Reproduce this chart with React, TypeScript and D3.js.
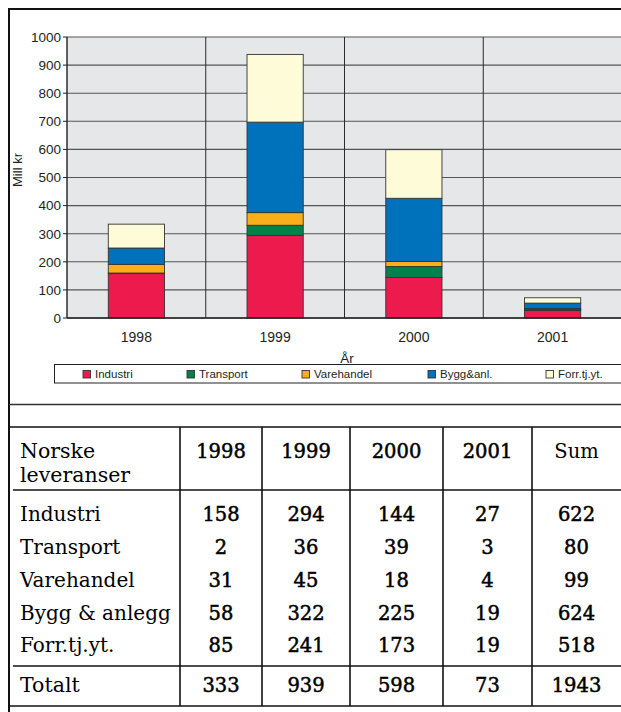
import React from "react";
import * as d3 from "d3";

const years = ["1998", "1999", "2000", "2001"];
const legendLabels = ["Industri", "Transport", "Varehandel", "Bygg&anl.", "Forr.tj.yt."];
const rowLabels = ["Industri", "Transport", "Varehandel", "Bygg & anlegg", "Forr.tj.yt."];
const industri = [158, 294, 144, 27];
const transport = [2, 36, 39, 3];
const varehandel = [31, 45, 18, 4];
const bygg = [58, 322, 225, 19];
const forr = [85, 241, 173, 19];
const rowSums = [622, 80, 99, 624, 518];
const yearTotals = [333, 939, 598, 73];
const grandTotal = 1943;
const yTicks = [0, 100, 200, 300, 400, 500, 600, 700, 800, 900, 1000];
const colors = ["#ed1a4e", "#00804a", "#f9ae1a", "#0072bb", "#fefbd9"];

const W = 621;
const H = 712;

export default function App() {
  const series = [industri, transport, varehandel, bygg, forr];
  const keys = legendLabels;
  const rows = years.map((yr, i) => {
    const o: any = { year: yr };
    keys.forEach((k, j) => (o[k] = series[j][i]));
    return o;
  });
  const stacked = d3.stack<any>().keys(keys)(rows);

  const plotL = 67, plotR = 622, plotT = 37, plotB = 318;
  const x = d3.scaleBand<string>().domain(years).range([plotL, plotR]).padding(0);
  const y = d3.scaleLinear().domain([0, 1000]).range([plotB, plotT]);
  const barW = x.bandwidth() * 0.405;

  const legendX = [83, 187, 302, 428, 546];

  const colEdges = [180, 262, 350, 443, 532, 621];
  const colCenters = colEdges.slice(0, -1).map((e, i) => (e + colEdges[i + 1]) / 2);
  const rowBase = [521, 554, 587, 620, 652];
  const serif = "'DejaVu Serif', serif";
  const sans = "'Liberation Sans', Arial, sans-serif";
  const numStroke = 0.5;

  return (
    <svg width={W} height={H} style={{ position: "absolute", left: 0, top: 0, background: "#fff" }}>
      <rect x={0} y={0} width={W} height={H} fill="#fff" />
      <rect x={plotL} y={plotT} width={plotR - plotL} height={plotB - plotT} fill="#e6e7e9" />
      {yTicks.map((t) => (
        <line key={"g" + t} x1={plotL} x2={plotR} y1={y(t)} y2={y(t)} stroke="#555" strokeWidth={1.1} />
      ))}
      {years.slice(1).map((yr) => (
        <line key={"v" + yr} x1={x(yr)!} x2={x(yr)!} y1={plotT} y2={plotB} stroke="#2a2a2a" strokeWidth={1} />
      ))}
      {stacked.map((s, j) => (
        <g key={s.key}>
          {s.map((d, i) => (
            <rect
              key={i}
              x={x(years[i])! + x.bandwidth() / 2 - barW / 2}
              y={y(d[1])}
              width={barW}
              height={Math.max(0, y(d[0]) - y(d[1]))}
              fill={colors[j]}
              stroke="#333"
              strokeWidth={0.9}
            />
          ))}
        </g>
      ))}
      <line x1={plotL} x2={plotL} y1={plotT} y2={plotB} stroke="#222" strokeWidth={1.4} />
      <line x1={plotL} x2={plotR} y1={plotB} y2={plotB} stroke="#222" strokeWidth={1.4} />
      {yTicks.map((t) => (
        <g key={"t" + t}>
          <line x1={plotL - 4} x2={plotL} y1={y(t)} y2={y(t)} stroke="#222" strokeWidth={1} />
          <text x={61} y={y(t)} dy="0.36em" textAnchor="end" fontFamily={sans} fontSize={13.5} fill="#231f20">
            {t}
          </text>
        </g>
      ))}
      {years.map((yr) => (
        <text key={"x" + yr} x={x(yr)! + x.bandwidth() / 2} y={342} textAnchor="middle" fontFamily={sans} fontSize={14} fill="#231f20">
          {yr}
        </text>
      ))}
      <text transform={`translate(22,170) rotate(-90)`} textAnchor="middle" fontFamily={sans} fontSize={13} fill="#231f20">
        Mill kr
      </text>
      <text x={347} y={362.5} textAnchor="middle" fontFamily={sans} fontSize={13.5} fill="#231f20">
        År
      </text>
      <rect x={54.5} y={364.5} width={W} height={18.5} fill="#fff" stroke="#222" strokeWidth={1} />
      {legendLabels.map((l, j) => (
        <g key={"l" + l}>
          <rect x={legendX[j]} y={370.5} width={7.5} height={7.5} fill={colors[j]} stroke="#333" strokeWidth={0.9} />
          <text x={legendX[j] + 12} y={378} fontFamily={sans} fontSize={11.5} fill="#231f20">
            {l}
          </text>
        </g>
      ))}
      <line x1={9} x2={W} y1={9} y2={9} stroke="#111" strokeWidth={2} />
      <line x1={9} x2={9} y1={8} y2={H} stroke="#111" strokeWidth={2} />
      <line x1={9} x2={W} y1={404.5} y2={404.5} stroke="#333" strokeWidth={1.3} />
      <line x1={9} x2={W} y1={427} y2={427} stroke="#111" strokeWidth={1.6} />
      <line x1={13} x2={W} y1={490} y2={490} stroke="#111" strokeWidth={1.6} />
      <line x1={13} x2={W} y1={666} y2={666} stroke="#111" strokeWidth={1.6} />
      <line x1={9} x2={W} y1={706} y2={706} stroke="#111" strokeWidth={1.6} />
      {colEdges.slice(0, -1).map((e) => (
        <line key={"c" + e} x1={e} x2={e} y1={427} y2={706} stroke="#111" strokeWidth={1.6} />
      ))}
      <text x={20} y={458} fontFamily={serif} fontSize={20.5} fill="#000">Norske</text>
      <text x={20} y={482} fontFamily={serif} fontSize={20.5} fill="#000">leveranser</text>
      {[...years, "Sum"].map((h, i) => (
        <text key={"h" + h} x={colCenters[i]} y={458} textAnchor="middle" fontFamily={serif} fontSize={19.5}
          fill="#000" stroke={h === "Sum" ? "none" : "#000"} strokeWidth={numStroke}>
          {h}
        </text>
      ))}
      {rowLabels.map((r, j) => (
        <g key={"r" + r}>
          <text x={20} y={rowBase[j]} fontFamily={serif} fontSize={20} fill="#000">{r}</text>
          {series[j].map((v, i) => (
            <text key={i} x={colCenters[i]} y={rowBase[j]} textAnchor="middle" fontFamily={serif} fontSize={19.5}
              fill="#000" stroke="#000" strokeWidth={numStroke}>
              {v}
            </text>
          ))}
          <text x={colCenters[4]} y={rowBase[j]} textAnchor="middle" fontFamily={serif} fontSize={19.5}
            fill="#000" stroke="#000" strokeWidth={numStroke}>
            {rowSums[j]}
          </text>
        </g>
      ))}
      <text x={20} y={692} fontFamily={serif} fontSize={20.5} fill="#000">Totalt</text>
      {[...yearTotals, grandTotal].map((v, i) => (
        <text key={"tt" + i} x={colCenters[i]} y={692} textAnchor="middle" fontFamily={serif} fontSize={19.5}
          fill="#000" stroke="#000" strokeWidth={numStroke}>
          {v}
        </text>
      ))}
    </svg>
  );
}
